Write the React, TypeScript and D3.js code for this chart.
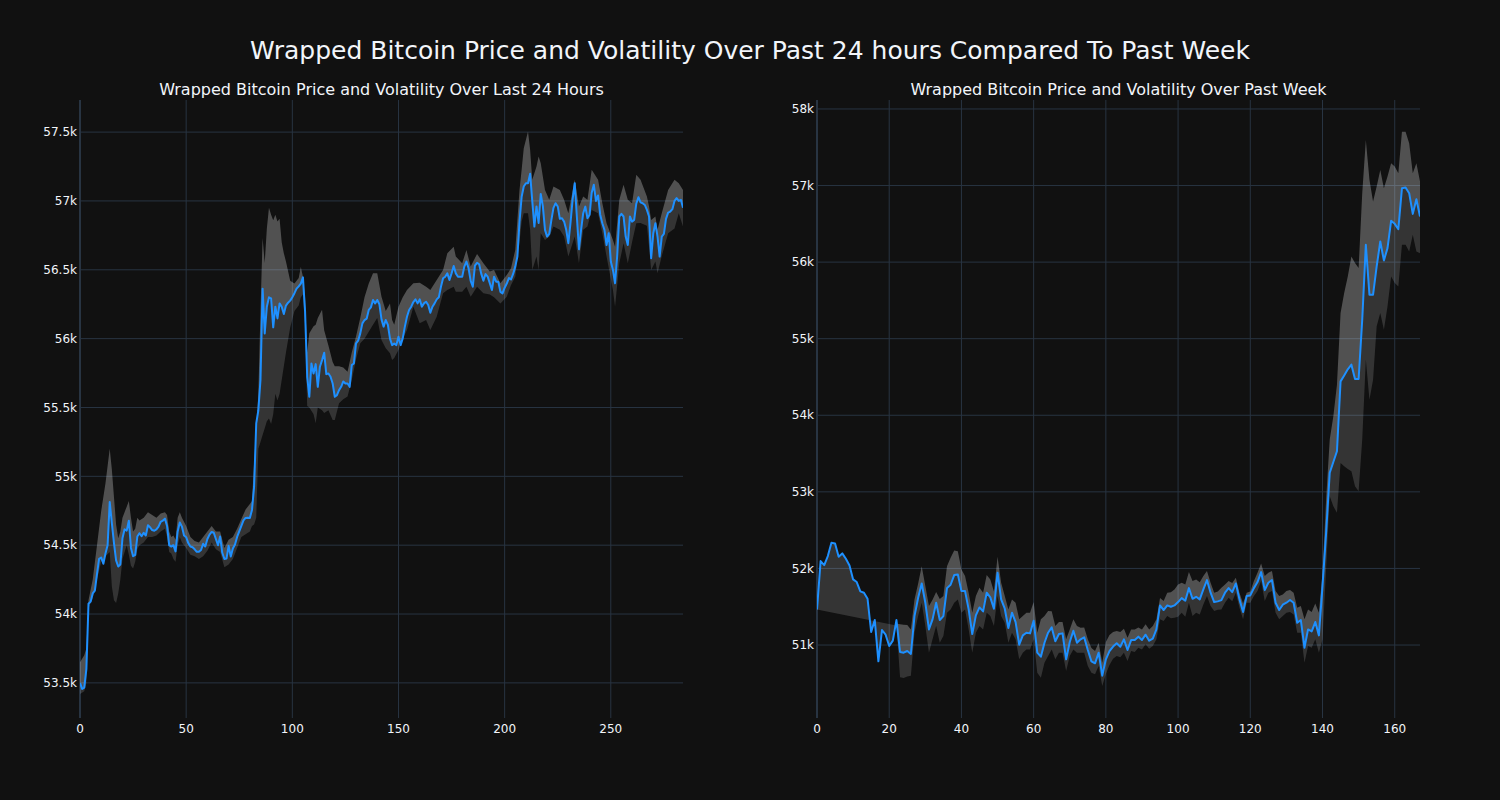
import React from 'react';
import * as d3 from 'd3';

// ---------- DATA ----------
// Last 24 hours (5-minute steps, index 0..284)
const dayPrice = [
  53500,53456,53465,53600,54075,54090,54150,54170,54290,54400,
  54410,54365,54440,54500,54814,54660,54515,54390,54345,54360,
  54550,54615,54606,54678,54480,54420,54430,54563,54587,54565,
  54590,54570,54645,54630,54610,54605,54615,54635,54670,54678,
  54693,54640,54500,54490,54500,54455,54600,54665,54635,54570,
  54558,54515,54490,54485,54470,54452,54452,54465,54510,54490,
  54545,54577,54596,54590,54545,54500,54563,54445,54400,54403,
  54495,54418,54476,54505,54560,54600,54640,54680,54698,54700,
  54698,54756,54925,55384,55480,55700,56363,56038,56232,56300,
  56293,56082,56232,56147,56256,56232,56179,56240,56261,56276,
  56300,56330,56363,56380,56400,56445,56200,55723,55578,55820,
  55747,55815,55650,55796,55844,55898,55742,55747,55723,55674,
  55578,55590,55626,55650,55689,55674,55674,55650,55808,55820,
  55965,55985,56038,56111,56135,56145,56208,56227,56281,56256,
  56281,56250,56140,56087,56135,56100,56000,55953,55965,55953,
  56014,55953,56002,56087,56159,56208,56232,56266,56285,56256,
  56285,56232,56256,56268,56244,56188,56232,56256,56285,56300,
  56377,56438,56450,56474,56426,56474,56528,56474,56450,56450,
  56450,56523,56559,56511,56420,56377,56530,56550,56540,56470,
  56420,56469,56450,56402,56353,56450,56414,56414,56340,56329,
  56370,56400,56440,56430,56470,56523,56596,56850,57030,57105,
  57129,57129,57197,57000,56814,56960,56840,57051,56960,56790,
  56741,56760,56860,56950,56983,56960,56870,56874,56850,56790,
  56693,56838,57008,57129,56887,56649,56790,56911,56959,56874,
  56899,57060,57117,57000,57040,56900,56838,56790,56680,56765,
  56560,56499,56402,56600,56887,56906,56887,56741,56680,56887,
  56850,56862,56980,57027,56990,56983,56971,56935,56887,56584,
  56765,56838,56741,56596,56741,56760,56870,56915,56923,56940,
  57000,57020,57000,57008,56950,
];

const dayBandX = [
  0,2,3,4,6,8,10,12,14,15,16,17,18,19,20,22,23,24,25,26,27,28,30,32,34,36,38,40,41,42,
  43,44,45,46,47,48,50,52,54,56,58,60,62,64,66,68,70,72,74,76,78,80,81,82,83,84,85,86,87,88,
  89,90,91,92,93,94,95,96,97,99,101,103,104,105,106,107,108,110,111,112,114,115,117,119,120,122,124,126,128,130,
  132,134,136,138,140,142,144,146,147,148,150,152,154,157,160,163,165,168,171,173,176,177,180,182,184,187,190,193,195,198,
  201,203,205,207,208,209,211,212,213,215,216,217,219,221,223,226,228,230,233,235,237,239,241,244,246,248,251,252,254,256,
  258,260,262,264,267,268,269,271,272,274,277,280,282,284,
];
const dayUpper = [
  53650,53700,53750,54100,54250,54500,54750,54950,55200,55050,54850,54650,54550,54600,54700,54780,54820,54700,54600,54620,54700,54680,54700,54740,54720,54700,54730,54740,54720,54600,
  54560,54570,54540,54700,54740,54700,54640,54560,54530,54520,54560,54600,54640,54600,54600,54480,54540,54560,54620,54690,54760,54800,54820,55100,55350,55600,56200,56730,56550,56800,
  56950,56900,56860,56900,56850,56870,56700,56620,56560,56420,56400,56440,56520,56450,56300,55900,56040,56090,56100,56150,56210,56060,55950,55830,55800,55800,55790,55760,55900,56015,
  56150,56300,56400,56475,56475,56305,56200,56256,56135,56100,56232,56300,56353,56402,56406,56377,56353,56426,56499,56620,56668,56596,56547,56644,56523,56615,56547,56487,56499,56402,
  56462,56511,56644,57080,57226,57383,57505,57371,57153,57250,57323,57274,57080,57008,57105,57080,57008,56911,57153,56959,57032,57008,57226,57153,56983,56838,56717,56668,57008,57117,
  57008,56983,57190,57153,57032,56959,56862,56887,56790,56911,57080,57153,57129,57080,
];
const dayLower = [
  53420,53440,53500,54040,54120,54250,54380,54420,54450,54200,54100,54080,54150,54250,54400,54500,54430,54350,54330,54380,54470,54500,54520,54560,54560,54570,54600,54620,54560,54450,
  54440,54400,54380,54500,54560,54520,54480,54430,54420,54400,54420,54460,54520,54470,54450,54340,54360,54400,54480,54560,54580,54600,54640,54650,54700,55200,55250,55300,55350,55400,
  55420,55380,55450,55600,55550,55600,55700,55800,55900,56080,56200,56240,56300,56320,56100,55510,55500,55450,55386,55500,55480,55460,55480,55410,55410,55530,55560,55580,55700,55850,
  55967,56000,56050,56100,56150,55990,55930,55893,55844,55860,55917,56000,56062,56232,56111,56135,56062,56159,56329,56353,56377,56341,56341,56377,56305,56377,56329,56320,56300,56256,
  56305,56390,56450,56700,56850,56911,56911,56790,56499,56596,56499,56765,56717,56740,56814,56790,56741,56596,56741,56547,56790,56814,56935,56911,56765,56596,56353,56232,56547,56693,
  56547,56700,56838,56840,56820,56668,56499,56560,56474,56600,56765,56800,56911,56814,
];

// Past week (hourly steps, index 0..167)
const weekPrice = [
  51465,52096,52044,52161,52335,52326,52152,52196,52126,52039,
  51857,51822,51700,51683,51604,51170,51326,50787,51196,51135,
  50987,51057,51326,50909,50900,50922,50883,51378,51613,51804,
  51552,51204,51335,51552,51326,51378,51743,51787,51913,51922,
  51704,51704,51465,51143,51387,51491,51439,51683,51622,51474,
  51944,51596,51474,51222,51422,51300,51004,51126,51161,51152,
  51317,50900,50848,51030,51161,51230,51048,51143,51152,50813,
  51039,51187,51030,51074,51100,50935,50787,50761,50900,50600,
  50813,50920,50980,51022,50978,51074,50935,51065,51065,51109,
  51065,51135,51057,51083,51204,51517,51457,51517,51500,51517,
  51561,51613,51578,51743,51604,51630,51596,51726,51848,51683,
  51561,51570,51587,51683,51743,51691,51804,51596,51430,51639,
  51648,51743,51822,51952,51717,51813,51848,51552,51457,51526,
  51552,51587,51552,51291,51326,50965,51204,51178,51300,51126,
  51770,52465,53250,53390,53531,54443,54520,54600,54661,54474,
  54474,55248,56226,55574,55574,55944,56270,56022,56183,56539,
  56500,56430,56965,56974,56900,56630,56822,56596,
];
const N = null;
const weekUpper = [
  N,N,N,N,N,N,N,N,N,N,N,N,N,N,N,N,N,N,N,N,N,N,
  51280,51270,51265,51260,51204,51596,51800,52030,51770,51509,
  51590,51691,51600,51639,52030,52139,52235,52226,51987,51900,
  51683,51422,51639,51748,51683,51913,51857,51700,52152,51813,
  51639,51465,51596,51552,51335,51378,51422,51420,51561,51161,
  51335,51378,51443,51440,51248,51300,51300,51074,51204,51335,
  51248,51226,51230,51074,50961,50922,51030,50770,51040,51130,
  51170,51183,51170,51213,51096,51204,51204,51230,51204,51270,
  51204,51248,51335,51613,51574,51683,51690,51726,51791,51813,
  51791,51952,51835,51857,51820,51900,51965,51813,51683,51700,
  51748,51791,51835,51810,51878,51683,51543,51683,51700,51835,
  51944,52065,51900,51944,51965,51704,51639,51660,51704,51720,
  51683,51487,51509,51335,51465,51430,51543,51422,51944,52900,
  53683,53987,54400,55335,55596,55813,56074,55987,55922,56900,
  57596,57074,56791,56987,57204,56965,57117,57291,57248,57161,
  57704,57704,57552,57161,57291,57052,
];
const weekLower = [
  N,N,N,N,N,N,N,N,N,N,N,N,N,N,N,N,N,N,N,N,N,N,
  51255,50580,50570,50590,50600,51161,51378,51552,51248,50900,
  51074,51250,51030,51117,51422,51465,51552,51596,51422,51465,
  51204,50900,51161,51248,51204,51422,51378,51248,51639,51378,
  51291,51030,51161,51074,50813,50900,50943,50943,51074,50639,
  50574,50770,50857,50943,50813,50900,50900,50661,50857,50943,
  50900,50900,50900,50726,50639,50617,50726,50465,50620,50740,
  50820,50857,50840,50900,50791,50922,50910,50965,50940,51009,
  50950,50987,51074,51335,51313,51378,51350,51357,51370,51422,
  51370,51552,51378,51422,51400,51530,51639,51509,51443,51460,
  51465,51552,51617,51570,51683,51487,51335,51552,51552,51639,
  51704,51835,51574,51683,51704,51422,51335,51380,51422,51430,
  51400,51161,51161,50770,50987,50965,51074,50900,51074,52000,
  52944,52813,52726,53378,53335,53300,53270,53074,53009,53683,
  54726,54204,54465,55161,55335,55117,55422,55813,55726,55683,
  56226,56226,56139,56357,56139,56117,
];
const weekBandX = weekPrice.map((_, i) => i);

const dayXTicks = [0, 50, 100, 150, 200, 250];
const dayYTicks = [53500, 54000, 54500, 55000, 55500, 56000, 56500, 57000, 57500];
const weekXTicks = [0, 20, 40, 60, 80, 100, 120, 140, 160];
const weekYTicks = [51000, 52000, 53000, 54000, 55000, 56000, 57000, 58000];

const mainTitle = 'Wrapped Bitcoin Price and Volatility Over Past 24 hours Compared To Past Week';
const dayTitle = 'Wrapped Bitcoin Price and Volatility Over Last 24 Hours';
const weekTitle = 'Wrapped Bitcoin Price and Volatility Over Past Week';

// ---------- STYLE ----------
const BG = '#111111';
const GRID = '#283442';
const TEXT = '#f2f5fa';
const FONT = '"DejaVu Sans", Verdana, Arial, sans-serif';
const LINE = '#1E90FF';

type Pt = [number, number];

function fmtK(v: number) {
  const k = v / 1000;
  return (Number.isInteger(k) ? String(k) : k.toFixed(1)) + 'k';
}

function Panel(props: {
  id: string; title: string; left: number; width: number; top: number; height: number;
  xDomain: [number, number]; yDomain: [number, number]; xTicks: number[]; yTicks: number[];
  price: number[]; bandX: number[]; upper: (number | null)[]; lower: (number | null)[];
}) {
  const { id, title, left, width, top, height, xDomain, yDomain, xTicks, yTicks, price, bandX, upper, lower } = props;
  const x = d3.scaleLinear().domain(xDomain).range([left, left + width]);
  const y = d3.scaleLinear().domain(yDomain).range([top + height, top]);
  const line = d3.line<Pt>().x(d => x(d[0])).y(d => y(d[1]));

  const pricePts: Pt[] = price.map((v, i) => [i, v]);
  const band = bandX
    .map((bx, k) => ({ x: bx, u: upper[k], l: lower[k] }))
    .filter(d => d.u != null && d.l != null) as { x: number; u: number; l: number }[];
  const lowerRev: Pt[] = band.map(d => [d.x, d.l] as Pt).reverse();
  const darkPath = line([...pricePts, ...lowerRev]) + 'Z';
  const b0 = band[0].x;
  const b1 = band[band.length - 1].x;
  const upperPts: Pt[] = band.map(d => [d.x, d.u] as Pt);
  const priceSegRev: Pt[] = pricePts.filter(p => p[0] >= b0 && p[0] <= b1).reverse();
  const lightPath = line([...upperPts, ...priceSegRev]) + 'Z';
  const pricePath = line(pricePts) || '';

  return (
    <g>
      <defs>
        <clipPath id={id}>
          <rect x={left} y={top} width={width} height={height} />
        </clipPath>
      </defs>
      {yTicks.map(t => (
        <line key={'gy' + t} x1={left} x2={left + width} y1={y(t)} y2={y(t)} stroke={GRID} strokeWidth={1} />
      ))}
      {xTicks.filter(t => t !== 0).map(t => (
        <line key={'gx' + t} x1={x(t)} x2={x(t)} y1={top} y2={top + height} stroke={GRID} strokeWidth={1} />
      ))}
      <line x1={x(0)} x2={x(0)} y1={top} y2={top + height} stroke={GRID} strokeWidth={2} />
      <g clipPath={`url(#${id})`}>
        <path d={darkPath} fill="rgba(255,255,255,0.15)" stroke="none" />
        <path d={lightPath} fill="rgba(255,255,255,0.27)" stroke="none" />
        <path d={pricePath} fill="none" stroke={LINE} strokeWidth={2} strokeLinejoin="round" />
      </g>
      {yTicks.map(t => (
        <text key={'ty' + t} x={left - 3} y={y(t)} dy="0.35em" textAnchor="end" fill={TEXT} fontSize={12} fontFamily={FONT}>
          {fmtK(t)}
        </text>
      ))}
      {xTicks.map(t => (
        <text key={'tx' + t} x={x(t)} y={top + height + 15} textAnchor="middle" fill={TEXT} fontSize={12} fontFamily={FONT}>
          {t}
        </text>
      ))}
      <text x={left + width / 2} y={95} textAnchor="middle" fill={TEXT} fontSize={16} fontFamily={FONT}>
        {title}
      </text>
    </g>
  );
}

export default function App() {
  return (
    <svg width={1500} height={800} style={{ position: 'absolute', left: 0, top: 0, display: 'block' }}>
      <rect x={0} y={0} width={1500} height={800} fill={BG} />
      <text x={750} y={59} textAnchor="middle" fill={TEXT} fontSize={25} fontFamily={FONT}>
        {mainTitle}
      </text>
      <Panel
        id="clip-day" title={dayTitle} left={80} width={603} top={100} height={618}
        xDomain={[0, 284]} yDomain={[53245, 57733]} xTicks={dayXTicks} yTicks={dayYTicks}
        price={dayPrice} bandX={dayBandX} upper={dayUpper} lower={dayLower}
      />
      <Panel
        id="clip-week" title={weekTitle} left={817} width={603} top={100} height={618}
        xDomain={[0, 167]} yDomain={[50047, 58117]} xTicks={weekXTicks} yTicks={weekYTicks}
        price={weekPrice} bandX={weekBandX} upper={weekUpper} lower={weekLower}
      />
    </svg>
  );
}
